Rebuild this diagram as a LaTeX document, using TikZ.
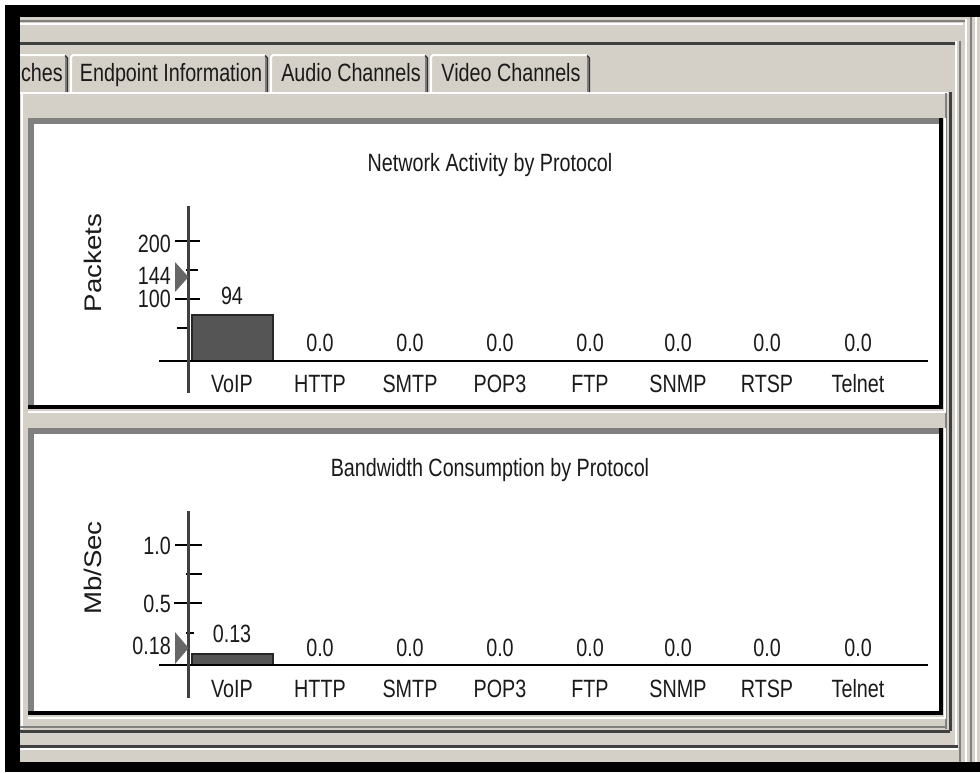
\documentclass[tikz,border=0pt]{standalone}
\usepackage{fontspec}
\newfontfamily\cf[FakeStretch=0.79]{Liberation Sans}
\newfontfamily\wf[FakeStretch=1.15]{Liberation Sans}
\definecolor{winbg}{HTML}{D4D0C8}
\definecolor{shadow}{HTML}{808080}
\definecolor{dkshadow}{HTML}{404040}
\definecolor{barfill}{HTML}{555555}
\definecolor{ink}{HTML}{1A1A1A}
\begin{document}
\begin{tikzpicture}[x=1pt,y=-1pt,
  txt/.style={font=\cf\fontsize{25}{28}\selectfont, text=ink, inner sep=0pt},
  axt/.style={font=\wf\fontsize{24}{28}\selectfont, text=ink, inner sep=0pt, rotate=90},
  tickline/.style={line width=2pt, draw=black},
  yaxis/.style={line width=3pt, draw=dkshadow},
  xaxis/.style={line width=2pt, draw=black},
  barbox/.style={fill=barfill, draw=black!85, line width=1.5pt},
  marker/.style={fill=shadow!80!black, draw=none},
  hil/.style={draw=white, line width=2pt},
  shd/.style={draw=shadow, line width=2.5pt},
  dshd/.style={draw=dkshadow, line width=3pt}]

\useasboundingbox (0,0) rectangle (980,772);
\fill[white] (0,0) rectangle (980,772);
\fill[winbg] (5,5) rectangle (980,772);

% ---- nested window frames ----
% frame A
\draw[shd] (20,21) -- (965,21);
\draw[hil] (20,24) -- (963,24);
\draw[hil] (966,19) -- (966,762);
\draw[shd] (971,17) -- (971,762);
\draw[hil] (976,17) -- (976,762);
% frame B
\draw[dshd] (20,43) -- (956,43);
\draw[hil] (956,41) -- (956,747);
\draw[shd] (960,41) -- (960,762);
\draw[dshd] (20,746) -- (958,746);
\draw[hil] (20,749) -- (958,749);
% content area (tab page)
\draw[hil] (20,93) -- (948,93);
\draw[hil] (22,93) -- (22,729);
\draw[shd] (946,93) -- (946,729);
\draw[dshd] (950,92) -- (950,731);
\draw[shd] (20,727) -- (946,727);
\draw[dshd] (20,731) -- (950,731);

% ---- tabs ----
\foreach \l/\r in {10/68,70/268,270/428,430/590}{
  \draw[hil] (\l+1,92) -- (\l+1,57) -- (\l+3,55) -- (\r-3,55);
  \draw[draw=shadow, line width=1.5pt] (\r-2,57) -- (\r-2,92);
  \draw[draw=black!80, line width=1.2pt] (\r-3,55.5) -- (\r-0.5,58) -- (\r-0.5,92);
}
\node[txt, anchor=base east] (tabA) at (63,81) {ches};
\node[txt, anchor=base] (tabB) at (171,81) {Endpoint Information};
\node[txt, anchor=base] (tabC) at (351,81) {Audio Channels};
\node[txt, anchor=base] (tabD) at (511,81) {Video Channels};

% ---- chart panels ----
\fill[black] (28,118) rectangle (943,409);
\fill[shadow] (28,118) rectangle (939,405);
\fill[white] (34,124) rectangle (939,405);
\draw[hil] (28,412) -- (945,412) -- (945,118);

\fill[black] (28,428) rectangle (943,715);
\fill[shadow] (28,428) rectangle (939,711);
\fill[white] (34,434) rectangle (939,711);
\draw[hil] (28,718) -- (945,718) -- (945,428);

% ================= top chart =================
\node[txt, anchor=base] (titleA) at (490,171) {Network Activity by Protocol};
\node[axt] (yA) at (93,263) {Packets};

\coordinate (aTop) at (188,206);
\coordinate (aBot) at (188,393);
\coordinate (xAL) at (159,361);
\coordinate (xAR) at (928,361);

\draw[tickline] (175,241) -- (200,241);
\draw[tickline] (186,270) -- (198,270);
\draw[tickline] (175,299) -- (200,299);
\draw[tickline] (177,328) -- (190,328);
\draw[barbox] (192,315) rectangle (273,361);
\draw[xaxis] (xAL) -- (xAR);
\draw[yaxis] (aTop) -- (aBot);
\fill[marker] (175,262) -- (188.5,277) -- (175,292) -- cycle;

\node[txt, anchor=base east] (a200) at (171,252) {200};
\node[txt, anchor=base east] (a144) at (171,284) {144};
\node[txt, anchor=base east] (a100) at (171,307.5) {100};
\node[txt, anchor=base] (vA94) at (232,304) {94};

\foreach \n/\x in {HTTP/320,SMTP/410,POP3/500,FTP/590,SNMP/678,RTSP/767,Telnet/858}{
  \node[txt, anchor=base] (vA\n) at (\x,351) {0.0};
}
\foreach \n/\x in {VoIP/232,HTTP/320,SMTP/410,POP3/500,FTP/590,SNMP/678,RTSP/767,Telnet/858}{
  \node[txt, anchor=base] (cA\n) at (\x,392) {\n};
}

% ================= bottom chart =================
\node[txt, anchor=base] (titleB) at (490,476) {Bandwidth Consumption by Protocol};
\node[axt] (yB) at (93,568) {Mb/Sec};

\coordinate (bTop) at (188,511);
\coordinate (bBot) at (188,698);
\coordinate (xBL) at (159,665);
\coordinate (xBR) at (928,665);

\draw[tickline] (175,545) -- (202,545);
\draw[tickline] (186,574) -- (202,574);
\draw[tickline] (174,603) -- (202,603);
\draw[tickline] (186,633) -- (194,633);
\draw[barbox] (192,654) rectangle (273,665);
\draw[xaxis] (xBL) -- (xBR);
\draw[yaxis] (bTop) -- (bBot);
\fill[marker] (175,632) -- (188.5,648) -- (175,664) -- cycle;

\node[txt, anchor=base east] (b10) at (171,554) {1.0};
\node[txt, anchor=base east] (b05) at (171,612) {0.5};
\node[txt, anchor=base east] (b018) at (171,654) {0.18};
\node[txt, anchor=base] (vB013) at (232,642) {0.13};

\foreach \n/\x in {HTTP/320,SMTP/410,POP3/500,FTP/590,SNMP/678,RTSP/767,Telnet/858}{
  \node[txt, anchor=base] (vB\n) at (\x,656) {0.0};
}
\foreach \n/\x in {VoIP/232,HTTP/320,SMTP/410,POP3/500,FTP/590,SNMP/678,RTSP/767,Telnet/858}{
  \node[txt, anchor=base] (cB\n) at (\x,697) {\n};
}

% ---- black outer bands (on top) ----
\fill[black] (5,5) rectangle (980,17);
\fill[black] (5,5) rectangle (20,772);
\fill[black] (5,762) rectangle (980,772);
\end{tikzpicture}
\end{document}
